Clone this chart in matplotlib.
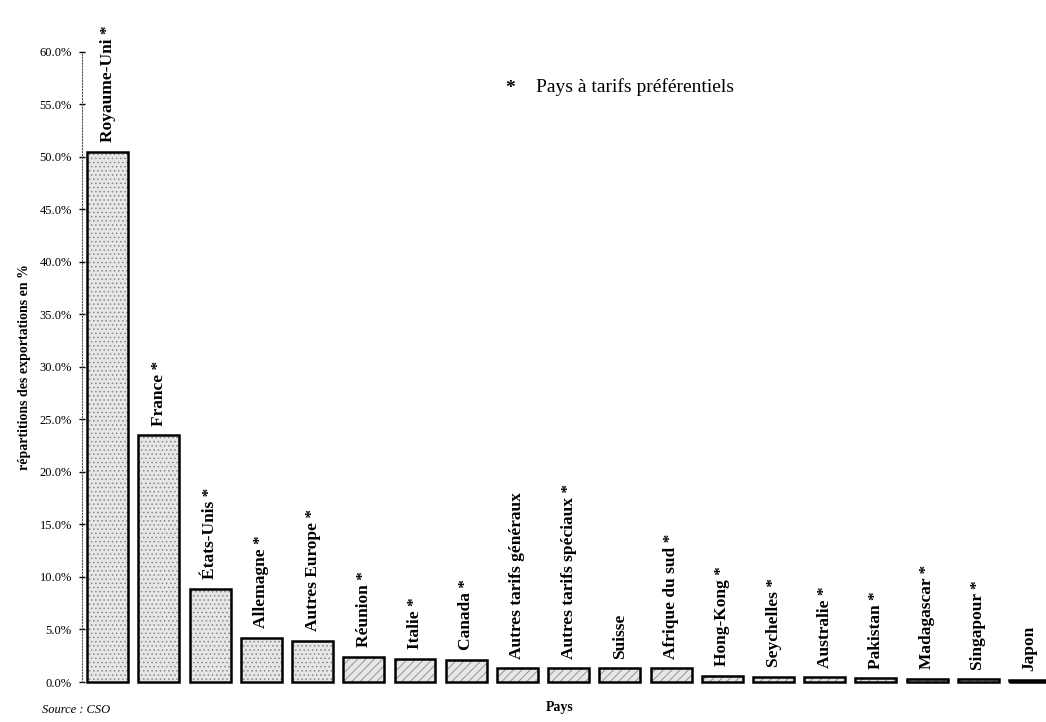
import matplotlib
matplotlib.use("Agg")
import matplotlib.pyplot as plt

countries = ["Royaume-Uni", "France", "États-Unis", "Allemagne", "Autres Europe",
             "Réunion", "Italie", "Canada", "Autres tarifs généraux",
             "Autres tarifs spéciaux", "Suisse", "Afrique du sud", "Hong-Kong",
             "Seychelles", "Australie", "Pakistan", "Madagascar", "Singapour", "Japon"]
shares = [50.5, 23.5, 8.9, 4.2, 3.9, 2.4, 2.2, 2.1, 1.3, 1.3, 1.3, 1.3,
          0.6, 0.5, 0.45, 0.35, 0.3, 0.25, 0.15]
preferential = [True, True, True, True, True, True, True, True, False,
                True, False, True, True, True, True, True, True, True, False]
yticks = [0, 5, 10, 15, 20, 25, 30, 35, 40, 45, 50, 55, 60]
yticklabels = ["0.0%", "5.0%", "10.0%", "15.0%", "20.0%", "25.0%", "30.0%",
               "35.0%", "40.0%", "45.0%", "50.0%", "55.0%", "60.0%"]

plt.rcParams['font.family'] = ['Liberation Serif', 'DejaVu Serif']
plt.rcParams['hatch.color'] = '#777777'
plt.rcParams['hatch.linewidth'] = 0.6

fig = plt.figure(figsize=(10.46, 7.22), dpi=100)
ax = fig.add_axes([0.078, 0.0554, 0.922, 0.8726])

x = list(range(len(countries)))
hatches = ['....'] * 5 + ['////'] * (len(countries) - 5)
for xi, v, h in zip(x, shares, hatches):
    ax.bar(xi, v, width=0.8, color='#e6e6e6', hatch=h, edgecolor='#888888',
           linewidth=0, clip_on=False)
ax.bar(x, shares, width=0.8, fill=False, edgecolor='black', linewidth=1.8,
       clip_on=False)

for xi, v, name, p in zip(x, shares, countries, preferential):
    label = name + (" *" if p else "")
    ax.annotate(label, (xi, v), xytext=(0, 7), textcoords='offset points',
                rotation=90, ha='center', va='bottom', fontsize=12.5,
                fontweight='bold', annotation_clip=False)

ax.set_xlim(-0.51, 18.32)
ax.set_ylim(0, 60)
ax.set_yticks(yticks)
ax.set_yticklabels(yticklabels, fontsize=9)
ax.set_xticks([])
for s in ['top', 'right', 'bottom']:
    ax.spines[s].set_visible(False)
ax.spines['left'].set_linestyle(':')
ax.spines['left'].set_color('#555555')
ax.tick_params(axis='y', direction='inout', length=4, width=1, pad=5)

ax.set_ylabel("répartitions des exportations en %", fontsize=10,
              fontweight='bold', labelpad=6)
fig.text(0.535, 0.015, "Pays", fontsize=10, fontweight='bold', ha='center')
fig.text(0.04, 0.013, "Source : CSO", fontsize=9, style='italic', ha='left')
fig.text(0.483, 0.878, "*", fontsize=14, fontweight='bold', ha='left', va='center')
fig.text(0.512, 0.879, "Pays à tarifs préférentiels", fontsize=14, ha='left',
         va='center')

fig.savefig("out.png", dpi=100)
